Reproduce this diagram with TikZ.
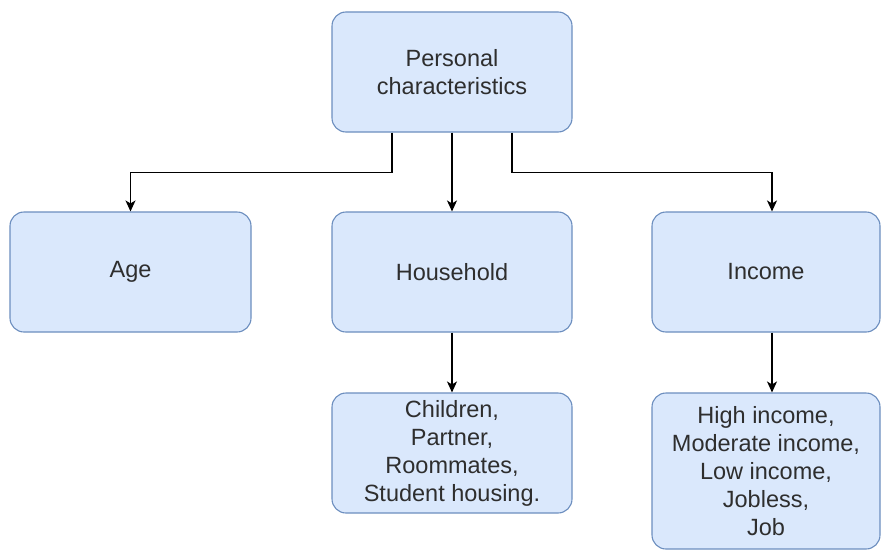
\documentclass[tikz,border=0pt]{standalone}
\usepackage{fontspec}
\setmainfont{Liberation Sans}
\usetikzlibrary{arrows.meta,positioning}
\definecolor{boxfill}{HTML}{DAE8FC}
\definecolor{boxline}{HTML}{6C8EBF}
\definecolor{boxtext}{HTML}{2E2E2E}
\tikzset{
    attr/.style = {rounded corners=14pt, rectangle, fill=boxfill, draw=boxline, line width=1.1pt,
                   text=boxtext, align=center, minimum width=240pt, minimum height=120pt,
                   inner sep=0pt, font=\fontsize{23.5}{28}\selectfont},
    link/.style = {-{Stealth[length=11pt,width=10pt,inset=3pt]}, line width=1.4pt, black}
}
\begin{document}
\begin{tikzpicture}[x=1pt,y=-1pt]
        \useasboundingbox[fill=white] (0,0) rectangle (882,551);

        %% Top
        \node[attr]  (pers) at (452,72)    {Personal\\characteristics};

        %% Second row
        \node[attr]  (hous) [below of=pers,node distance=200pt]    {Household};
        \node[attr,minimum width=241pt]  (age) [left of=hous,node distance=321.5pt]    {Age};
        \node[attr,minimum width=228pt]  (inco) [right of=hous,node distance=314pt]    {Income};

        %% Third row
        \node[attr]  (hsub) [below of=hous,node distance=181pt]
                {Children,\\Partner,\\Roommates,\\Student housing.};
        \node[attr,minimum width=228pt,minimum height=156pt]  (isub) [below of=inco,node distance=199pt]
                {High income,\\Moderate income,\\Low income,\\Jobless,\\Job};

        \draw[link] ([xshift=-60pt]pers.south) -- ++(0,40) -| (age.north);
        \draw[link] ([xshift=60pt]pers.south) -- ++(0,40) -| ([xshift=6pt]inco.north);
        \path   [link]
                (pers) edge []   node {} (hous)
                (hous) edge []   node {} (hsub)
                ([xshift=6pt]inco.south) edge []   node {} ([xshift=6pt]isub.north);
\end{tikzpicture}
\end{document}
